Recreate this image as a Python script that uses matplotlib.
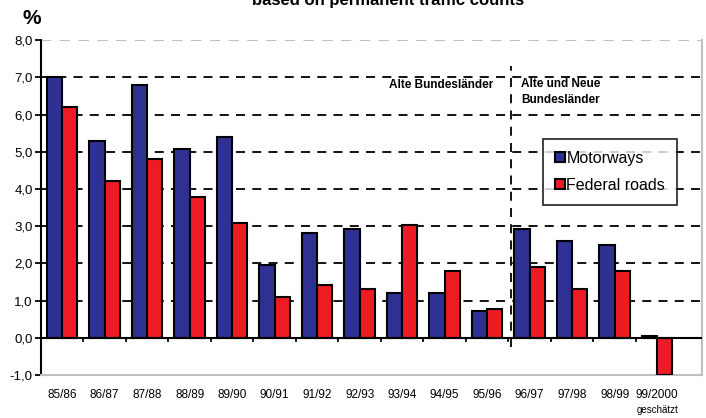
import numpy as np
import matplotlib.pyplot as plt

years = ["85/86", "86/87", "87/88", "88/89", "89/90", "90/91", "91/92", "92/93",
         "93/94", "94/95", "95/96", "96/97", "97/98", "98/99", "99/2000"]
motorways = [7.0, 5.3, 6.8, 5.07, 5.4, 1.96, 2.81, 2.92, 1.2, 1.2, 0.72, 2.92, 2.6, 2.5, 0.06]
federal = [6.2, 4.2, 4.8, 3.79, 3.08, 1.1, 1.42, 1.31, 3.03, 1.8, 0.77, 1.9, 1.31, 1.8, -1.0]

plt.rcParams['font.family'] = ['Liberation Sans', 'DejaVu Sans']

fig = plt.figure(figsize=(7.06, 4.18), dpi=100)
ax = fig.add_axes([0.058, 0.103, 0.936, 0.801])

x = np.arange(len(years))
w = 0.36
ax.bar(x - w / 2, motorways, w, color="#2e3192", edgecolor="black", linewidth=1.5,
       label="Motorways", zorder=3)
ax.bar(x + w / 2, federal, w, color="#ed1c24", edgecolor="black", linewidth=1.5,
       label="Federal roads", zorder=3)

ax.set_xlim(-0.5, len(years) - 0.5 + 0.55)
ax.set_ylim(-1, 8)

for v in range(1, 8):
    ax.axhline(v, color="black", lw=1.3, ls=(0, (5, 4)), zorder=1)
ax.axhline(8, color="#c0c0c0", lw=1.5, ls=(0, (5, 4)), zorder=1)
ax.axhline(0, color="black", lw=1.5, zorder=4)

# separation line between old and new states
ax.plot([10.55, 10.55], [-0.25, 7.3], color="black", lw=1.3, ls=(0, (5, 4)), zorder=5)

# ticks on the zero line
for b in np.arange(0.5, len(years) - 0.5, 1):
    ax.plot([b, b], [0, -0.1], color="black", lw=1.3, zorder=4, clip_on=False)

ax.spines["top"].set_visible(False)
ax.spines["right"].set_color("#c0c0c0")
ax.spines["right"].set_linewidth(1.5)
ax.spines["bottom"].set_color("#c0c0c0")
ax.spines["bottom"].set_linewidth(1.5)
ax.spines["left"].set_linewidth(1.5)

ax.set_yticks(range(-1, 9))
ax.set_yticklabels([f"{v},0" for v in range(-1, 9)], fontsize=9.5)
ax.tick_params(axis="y", length=4, width=1.3, pad=2)
ax.set_xticks(x)
ax.set_xticklabels(years, fontsize=8.5)
ax.tick_params(axis="x", length=0, pad=10)

ax.text(7.7, 6.7, "Alte Bundesländer", fontsize=8.5, fontweight="bold", zorder=6)
ax.text(10.8, 6.3, "Alte und Neue\nBundesländer", fontsize=8.5, fontweight="bold",
        linespacing=1.5, zorder=6)
ax.text(14, -1.95, "geschätzt", fontsize=7, ha="center", va="center")

leg = ax.legend(loc="upper left", bbox_to_anchor=(0.76, 0.706), frameon=True,
                fancybox=False, edgecolor="black", fontsize=11.5,
                handlelength=0.6, handleheight=0.6, handletextpad=0.1,
                borderpad=0.75, labelspacing=0.75, borderaxespad=0)
leg.get_frame().set_linewidth(1.3)
leg.set_zorder(7)

fig.text(0.045, 0.955, "%", fontsize=15, fontweight="bold", ha="center", va="center")
fig.text(0.55, 0.998, "based on permanent traffic counts", fontsize=12,
         fontweight="bold", ha="center", va="center")

fig.savefig("out.png", dpi=100)
